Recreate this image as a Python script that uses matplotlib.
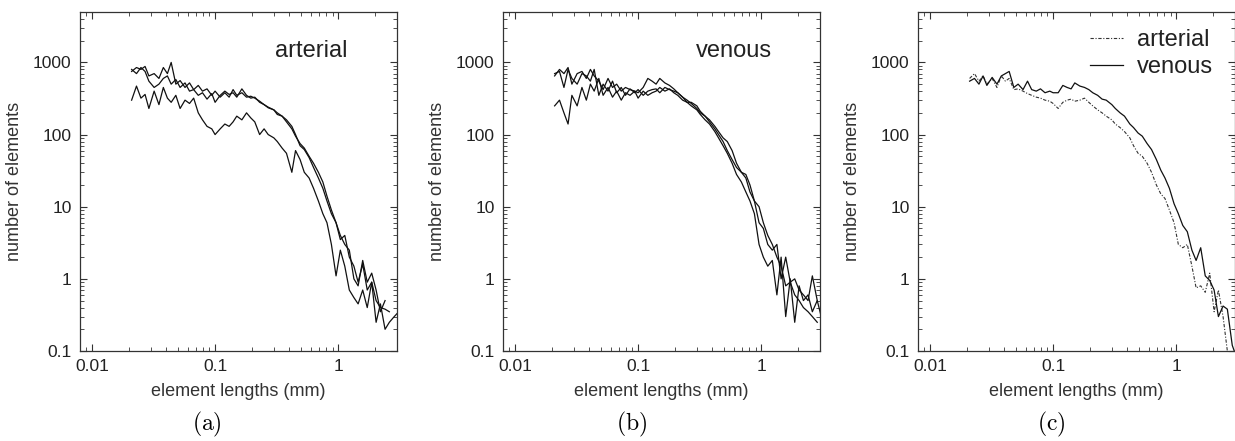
import numpy as np
import matplotlib.pyplot as plt

plt.rcParams['font.family'] = ['Liberation Sans', 'DejaVu Sans']
plt.rcParams['mathtext.fontset'] = 'cm'

# element length bins (mm)
x = [0.021, 0.023, 0.025, 0.027, 0.029, 0.032, 0.035, 0.038, 0.041, 0.044,
     0.048, 0.052, 0.057, 0.062, 0.067, 0.073, 0.079, 0.086, 0.094, 0.10,
     0.11, 0.12, 0.13, 0.14, 0.15, 0.165, 0.18, 0.195, 0.21, 0.23,
     0.25, 0.27, 0.30, 0.32, 0.35, 0.38, 0.42, 0.45, 0.49, 0.53,
     0.58, 0.63, 0.69, 0.75, 0.81, 0.88, 0.96, 1.04, 1.13, 1.23,
     1.34, 1.45, 1.58, 1.72, 1.87, 2.03, 2.2, 2.4, 2.6, 2.85, 3.1]

# (a) arterial trees
art1 = [750, 850, 800, 880, 650, 700, 600, 850, 700, 1000,
        500, 560, 450, 520, 420, 480, 400, 430, 350, 400,
        330, 380, 330, 420, 350, 380, 330, 340, 320, 290,
        260, 235, 220, 190, 180, 160, 130, 100, 70, 62,
        48, 35, 25, 18, 12, 8, 6, 3.5, 4, 2.0,
        1.5, 0.9, 1.6, 0.7, 0.9, 0.5, 0.4, 0.38, 0.35]
art2 = [800, 700, 850, 750, 550, 450, 500, 600, 650, 500,
        580, 450, 520, 400, 420, 350, 380, 310, 370, 280,
        350, 400, 360, 380, 330, 430, 350, 320, 330, 280,
        260, 240, 220, 200, 180, 150, 120, 95, 75, 65,
        50, 40, 30, 22, 14, 9, 6, 4, 3, 2.5,
        1.0, 0.8, 1.8, 0.9, 1.2, 0.7, 0.35, 0.5]
art3 = [300, 470, 320, 360, 230, 400, 260, 450, 320, 280,
        350, 230, 300, 270, 320, 200, 160, 130, 120, 100,
        120, 140, 130, 150, 180, 160, 200, 170, 150, 100,
        120, 100, 90, 80, 65, 55, 30, 60, 45, 30,
        25, 18, 12, 8, 6, 3, 1.1, 2.5, 1.5, 0.7,
        0.55, 0.45, 0.7, 0.4, 0.9, 0.25, 0.45, 0.2, 0.25, 0.3, 0.35]

# (b) venous trees
ven1 = [650, 800, 700, 850, 500, 700, 750, 600, 800, 650,
        550, 420, 600, 450, 500, 400, 450, 420, 400, 380,
        450, 600, 550, 500, 600, 520, 480, 430, 380, 330,
        300, 270, 230, 200, 180, 150, 120, 100, 80, 60,
        45, 35, 30, 25, 16, 12, 10, 6, 4, 3,
        2, 1.5, 0.8, 0.9, 0.6, 0.5, 0.4, 0.35, 0.3, 0.25]
ven2 = [700, 750, 450, 800, 600, 500, 700, 650, 550, 800,
        350, 500, 400, 550, 380, 450, 350, 430, 380, 420,
        350, 400, 420, 430, 380, 450, 420, 400, 380, 330,
        280, 280, 250, 210, 180, 160, 130, 110, 90, 80,
        60, 40, 30, 28, 20, 12, 6, 5, 3, 2.5,
        3, 1.0, 2, 0.9, 1.0, 0.7, 0.6, 0.5, 1.1, 0.5]
ven3 = [250, 300, 200, 140, 350, 250, 450, 300, 500, 400,
        600, 350, 450, 330, 400, 300, 380, 350, 400, 320,
        400, 350, 380, 400, 450, 400, 430, 380, 350, 300,
        280, 250, 220, 190, 160, 140, 110, 90, 70, 55,
        40, 28, 22, 16, 12, 8, 3, 2, 1.5, 1.8,
        0.6, 2, 0.3, 1.0, 0.25, 0.8, 0.5, 0.6, 0.35, 0.5, 0.28]

# (c) averages
art_avg = [600, 700, 550, 650, 500, 600, 450, 650, 550, 600,
           420, 430, 400, 370, 350, 330, 320, 300, 290, 270,
           230, 280, 300, 310, 290, 300, 320, 280, 250, 220,
           200, 180, 160, 140, 125, 110, 90, 70, 55, 50,
           40, 30, 20, 15, 13, 9, 6, 3, 2.7, 3,
           1.5, 0.75, 0.8, 0.65, 1.2, 0.35, 0.7, 0.3, 0.1]
ven_avg = [550, 600, 500, 650, 480, 620, 500, 650, 700, 750,
           450, 500, 420, 550, 420, 400, 430, 380, 400, 380,
           380, 480, 450, 430, 520, 470, 450, 420, 380, 350,
           310, 300, 260, 230, 200, 180, 140, 125, 105, 95,
           75, 62, 45, 32, 25, 18, 11, 8, 5.5, 4.5,
           2.5, 1.8, 2.7, 1.1, 0.95, 0.7, 0.3, 0.42, 0.38, 0.12, 0.08]

fig = plt.figure(figsize=(12.35, 4.41), dpi=100)
lefts = [80, 503, 918]
axes = []
for l in lefts:
    ax = fig.add_axes([l / 1235, 1 - 351 / 441, 317 / 1235, 339 / 441])
    axes.append(ax)

def style(ax):
    ax.set_xscale('log')
    ax.set_yscale('log')
    ax.set_xlim(0.008, 3.0)
    ax.set_ylim(0.1, 5000)
    ax.set_xticks([0.01, 0.1, 1])
    ax.set_xticklabels(['0.01', '0.1', '1'])
    ax.set_yticks([0.1, 1, 10, 100, 1000])
    ax.set_yticklabels(['0.1', '1', '10', '100', '1000'])
    ax.tick_params(which='both', direction='in', top=True, right=True,
                   labelsize=12.5, color='#333333', labelcolor='#222222')
    ax.tick_params(which='major', length=5, width=0.8, pad=6)
    ax.tick_params(which='minor', length=3, width=0.6)
    for s in ax.spines.values():
        s.set_linewidth(0.9)
        s.set_color('#333333')
    ax.set_xlabel('element lengths (mm)', fontsize=13, color='#333333', labelpad=6)
    ax.set_ylabel('number of elements', fontsize=13, color='#333333', labelpad=7)

def n(y):
    return x[:len(y)]

ax = axes[0]
for y in (art1, art2, art3):
    ax.plot(n(y), y, color='#111111', lw=0.9)
style(ax)
ax.text(0.73, 0.885, 'arterial', transform=ax.transAxes, fontsize=17,
        ha='center', va='center', color='#222222')

ax = axes[1]
for y in (ven1, ven2, ven3):
    ax.plot(n(y), y, color='#111111', lw=0.9)
style(ax)
ax.text(0.73, 0.885, 'venous', transform=ax.transAxes, fontsize=17,
        ha='center', va='center', color='#222222')

ax = axes[2]
ax.plot(n(art_avg), art_avg, color='#333333', lw=0.8,
        linestyle=(0, (3, 1.5, 1, 1.5)), label='arterial')
ax.plot(n(ven_avg), ven_avg, color='#111111', lw=0.9, label='venous')
style(ax)
ax.legend(loc='upper right', bbox_to_anchor=(0.99, 1.005), frameon=False,
          fontsize=17, handlelength=1.4, handletextpad=0.6,
          labelspacing=0.22, borderpad=0.3, labelcolor='#222222')

fig.text(207 / 1235, 1 - 424 / 441, r'$\mathrm{(a)}$', fontsize=17, ha='center', va='center')
fig.text(632 / 1235, 1 - 424 / 441, r'$\mathrm{(b)}$', fontsize=17, ha='center', va='center')
fig.text(1051 / 1235, 1 - 424 / 441, r'$\mathrm{(c)}$', fontsize=17, ha='center', va='center')

fig.savefig('out.png', dpi=100)
